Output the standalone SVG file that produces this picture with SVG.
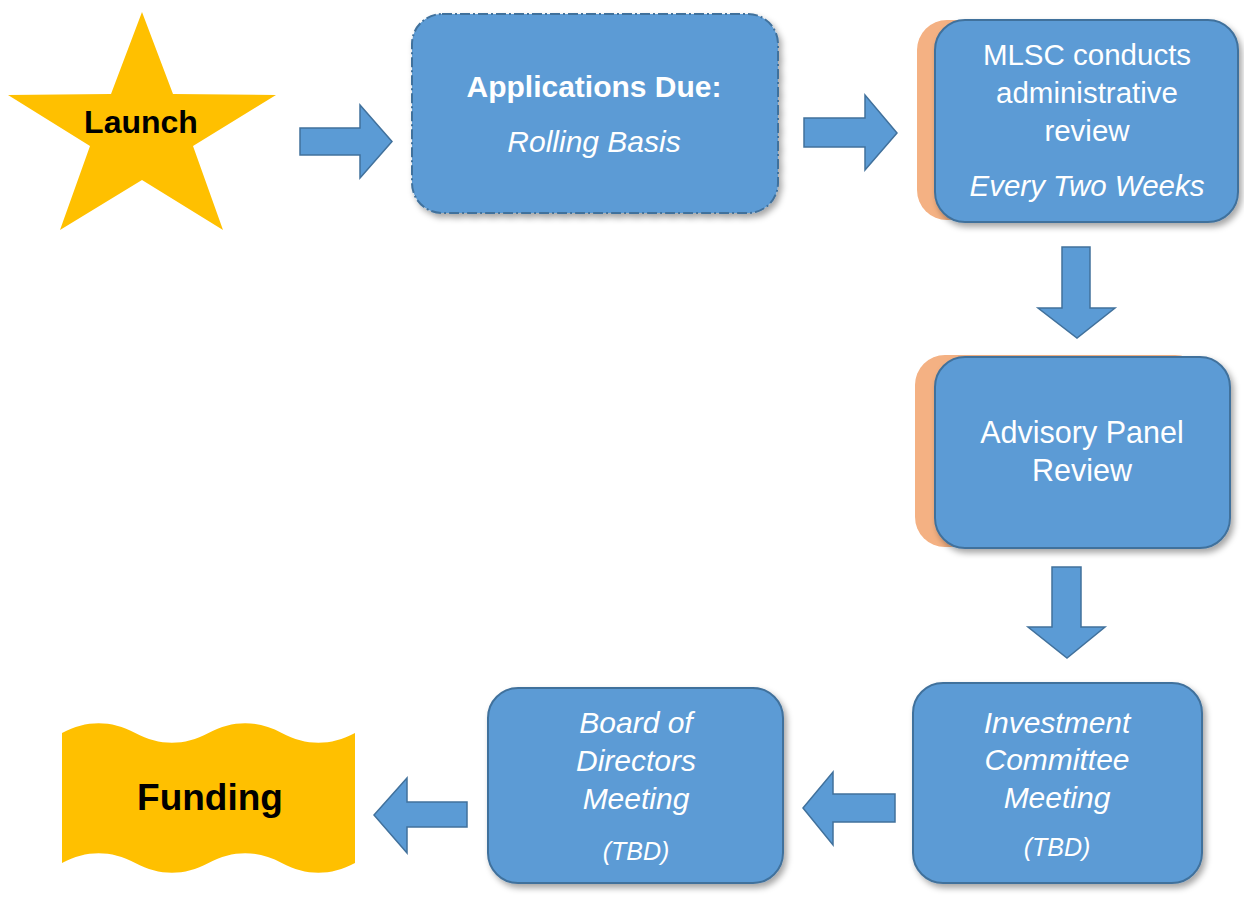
<svg xmlns="http://www.w3.org/2000/svg" width="1244" height="903" viewBox="0 0 1244 903">
<defs>
<filter id="sh" x="-10%" y="-10%" width="125%" height="130%">
<feDropShadow dx="3" dy="4" stdDeviation="3" flood-color="#000" flood-opacity="0.35"/>
</filter>
<style>
.box{fill:#5B9BD5;stroke:#41719C;stroke-width:2;filter:url(#sh)}
.dash{stroke-dasharray:10 3 2 3}
.back{fill:#F4B183}
.arrow{fill:#5B9BD5;stroke:#41719C;stroke-width:1.5;stroke-linejoin:miter}
.gold{fill:#FFC000}
.t{font-family:"Liberation Sans",Arial,sans-serif;fill:#fff;text-anchor:middle}
.i{font-style:italic}
.b{font-weight:bold}
.k{fill:#000}
</style>
</defs>
<rect width="1244" height="903" fill="#fff"/>

<g id="connectors">
<polygon class="arrow" points="300,128 360,128 360,105 392,141.5 360,178 360,155 300,155"/>
<polygon class="arrow" points="804,118 865,118 865,95 897,133 865,170 865,147 804,147"/>
<polygon class="arrow" points="1062,247 1090,247 1090,308 1115,308 1077,338 1038,308 1062,308"/>
<polygon class="arrow" points="1052,567 1081,567 1081,627 1105,627 1067,658 1028,627 1052,627"/>
<polygon class="arrow" points="895,794 833,794 833,772 803,808 833,845 833,822 895,822"/>
<polygon class="arrow" points="467,802 407,802 407,778 374,815 407,853 407,827 467,827"/>
</g>

<g id="launch">
<polygon class="gold" points="142,12 173,94 276,95 193,146 223,230 142,180 60,230 90,146 8,95 111,94"/>
<text class="t b k" x="141" y="133" font-size="32">Launch</text>
</g>

<g id="applications">
<rect class="box dash" x="412" y="14" width="366" height="199" rx="30"/>
<text class="t b" x="594" y="97" font-size="30">Applications Due:</text>
<text class="t i" x="594" y="152" font-size="30">Rolling Basis</text>
</g>

<g id="mlsc">
<rect class="back" x="917" y="20" width="290" height="200" rx="30"/>
<rect class="box" x="935" y="20" width="303" height="202" rx="30"/>
<text class="t" x="1087" y="65" font-size="29.5">MLSC conducts</text>
<text class="t" x="1087" y="103" font-size="29.5">administrative</text>
<text class="t" x="1087" y="141" font-size="29.5">review</text>
<text class="t i" x="1087" y="196" font-size="29.5">Every Two Weeks</text>
</g>

<g id="advisory">
<rect class="back" x="915" y="355" width="290" height="192" rx="30"/>
<rect class="box" x="935" y="357" width="295" height="191" rx="30"/>
<text class="t" x="1082" y="443" font-size="30.5">Advisory Panel</text>
<text class="t" x="1082" y="481" font-size="30.5">Review</text>
</g>

<g id="investment">
<rect class="box" x="913" y="683" width="289" height="200" rx="30"/>
<text class="t i" x="1057" y="733" font-size="30">Investment</text>
<text class="t i" x="1057" y="770" font-size="30">Committee</text>
<text class="t i" x="1057" y="808" font-size="30">Meeting</text>
<text class="t i" x="1057" y="856" font-size="25">(TBD)</text>
</g>

<g id="board">
<rect class="box" x="488" y="688" width="295" height="195" rx="30"/>
<text class="t i" x="636" y="733" font-size="30">Board of</text>
<text class="t i" x="636" y="771" font-size="30">Directors</text>
<text class="t i" x="636" y="809" font-size="30">Meeting</text>
<text class="t i" x="636" y="860" font-size="25">(TBD)</text>
</g>

<g id="funding">
<path class="gold" d="M62,733 C86.4,720 110.8,720 135.25,733 C159.7,746 184.1,746 208.5,733 C232.9,720 257.3,720 281.75,733 C306.2,746 330.6,746 355,733 L355,863 C330.6,876 306.2,876 281.75,863 C257.3,850 232.9,850 208.5,863 C184.1,876 159.7,876 135.25,863 C110.8,850 86.4,850 62,863 Z"/>
<text class="t b k" x="210" y="810" font-size="37">Funding</text>
</g>
</svg>
